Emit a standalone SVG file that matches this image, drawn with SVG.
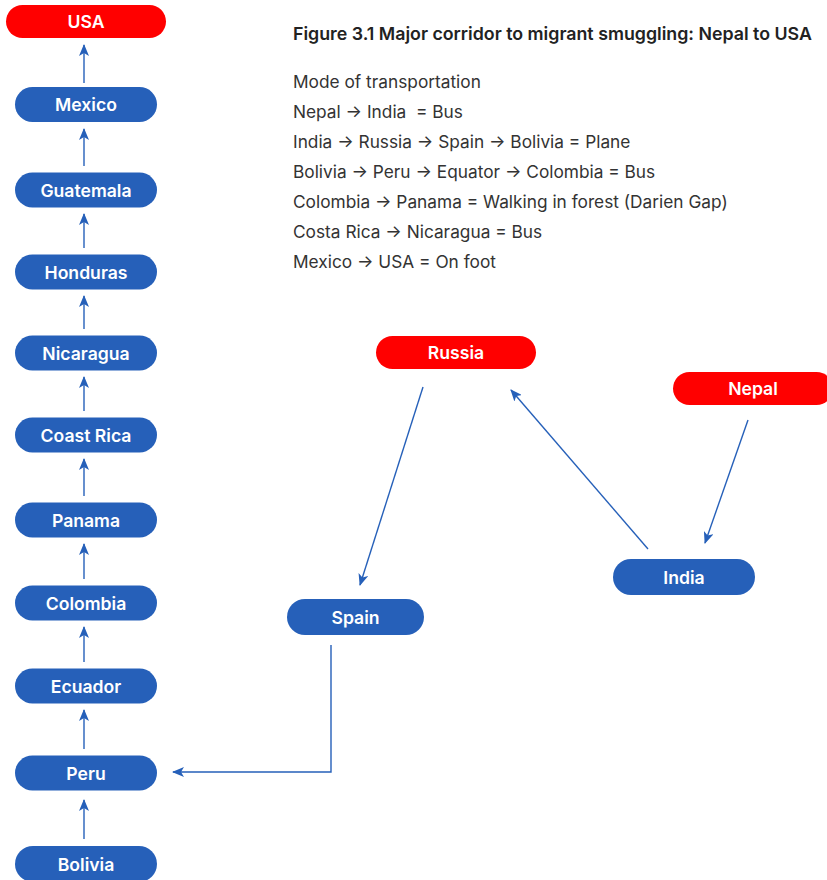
<svg xmlns="http://www.w3.org/2000/svg" width="827" height="880" viewBox="0 0 827 880">
<defs>
<style>
.blue{fill:#2660B9}
.red{fill:#FF0000}
.lbl{font-family:Inter,"Liberation Sans",sans-serif;font-weight:600;font-size:17.6px;fill:#fff;text-anchor:middle;dominant-baseline:central}
.con{stroke:#2660B9;stroke-width:1.4;fill:none;marker-end:url(#ah)}
.title{font-family:Inter,"Liberation Sans",sans-serif;font-weight:600;font-size:17.8px;fill:#222}
.body{font-family:Inter,"Liberation Sans",sans-serif;font-size:17.3px;fill:#333;white-space:pre}
</style>
<marker id="ah" markerWidth="12" markerHeight="10" refX="11" refY="5" orient="auto" markerUnits="userSpaceOnUse">
<path d="M0,0 L12,5 L0,10 L3,5 Z" fill="#2660B9"/>
</marker>
</defs>
<rect width="827" height="880" fill="#fff"/>
<g id="legend">
<text class="title" x="293" y="40">Figure 3.1 Major corridor to migrant smuggling: Nepal to USA</text>
<text class="body" x="293" y="88">Mode of transportation</text>
<text class="body" x="293" y="118" xml:space="preserve">Nepal → India  = Bus</text>
<text class="body" x="293" y="148">India → Russia → Spain → Bolivia = Plane</text>
<text class="body" x="293" y="178">Bolivia → Peru → Equator → Colombia = Bus</text>
<text class="body" x="293" y="208">Colombia → Panama = Walking in forest (Darien Gap)</text>
<text class="body" x="293" y="238">Costa Rica → Nicaragua = Bus</text>
<text class="body" x="293" y="268">Mexico → USA = On foot</text>
</g>
<g id="connectors">
<path class="con" d="M84,83 L84,45"/>
<path class="con" d="M84,166 L84,129"/>
<path class="con" d="M84,248 L84,214"/>
<path class="con" d="M84,329 L84,296"/>
<path class="con" d="M84,411 L84,377"/>
<path class="con" d="M84,496 L84,459"/>
<path class="con" d="M84,579 L84,544"/>
<path class="con" d="M84,662 L84,627"/>
<path class="con" d="M84,749 L84,710"/>
<path class="con" d="M84,839 L84,800"/>
<path class="con" d="M331,645 L331,772 L173,772"/>
<path class="con" d="M423,387 L360,585"/>
<path class="con" d="M648,549 L511,390"/>
<path class="con" d="M748,420 L705,543"/>
</g>
<g id="usa"><rect class="red" x="6" y="5" width="160" height="33" rx="16.5"/><text class="lbl" x="86" y="21.5">USA</text></g>
<g id="mexico"><rect class="blue" x="15" y="87" width="142" height="35" rx="17.5"/><text class="lbl" x="86" y="104.5">Mexico</text></g>
<g id="guatemala"><rect class="blue" x="15" y="172.5" width="142" height="35" rx="17.5"/><text class="lbl" x="86" y="190">Guatemala</text></g>
<g id="honduras"><rect class="blue" x="15" y="254.5" width="142" height="35" rx="17.5"/><text class="lbl" x="86" y="272">Honduras</text></g>
<g id="nicaragua"><rect class="blue" x="15" y="335.5" width="142" height="35" rx="17.5"/><text class="lbl" x="86" y="353">Nicaragua</text></g>
<g id="costarica"><rect class="blue" x="15" y="417.5" width="142" height="35" rx="17.5"/><text class="lbl" x="86" y="435">Coast Rica</text></g>
<g id="panama"><rect class="blue" x="15" y="502.5" width="142" height="35" rx="17.5"/><text class="lbl" x="86" y="520">Panama</text></g>
<g id="colombia"><rect class="blue" x="15" y="585.5" width="142" height="35" rx="17.5"/><text class="lbl" x="86" y="603">Colombia</text></g>
<g id="ecuador"><rect class="blue" x="15" y="668.5" width="142" height="35" rx="17.5"/><text class="lbl" x="86" y="686">Ecuador</text></g>
<g id="peru"><rect class="blue" x="15" y="755.5" width="142" height="35" rx="17.5"/><text class="lbl" x="86" y="773">Peru</text></g>
<g id="bolivia"><rect class="blue" x="15" y="846" width="142" height="36" rx="18"/><text class="lbl" x="86" y="864">Bolivia</text></g>
<g id="russia"><rect class="red" x="376" y="336" width="160" height="33" rx="16.5"/><text class="lbl" x="456" y="352.5">Russia</text></g>
<g id="nepal"><rect class="red" x="673" y="372" width="160" height="33" rx="16.5"/><text class="lbl" x="753" y="388.5">Nepal</text></g>
<g id="india"><rect class="blue" x="613" y="559" width="142" height="36" rx="18"/><text class="lbl" x="684" y="577">India</text></g>
<g id="spain"><rect class="blue" x="287" y="599" width="137" height="36" rx="18"/><text class="lbl" x="355.5" y="617">Spain</text></g>
</svg>
